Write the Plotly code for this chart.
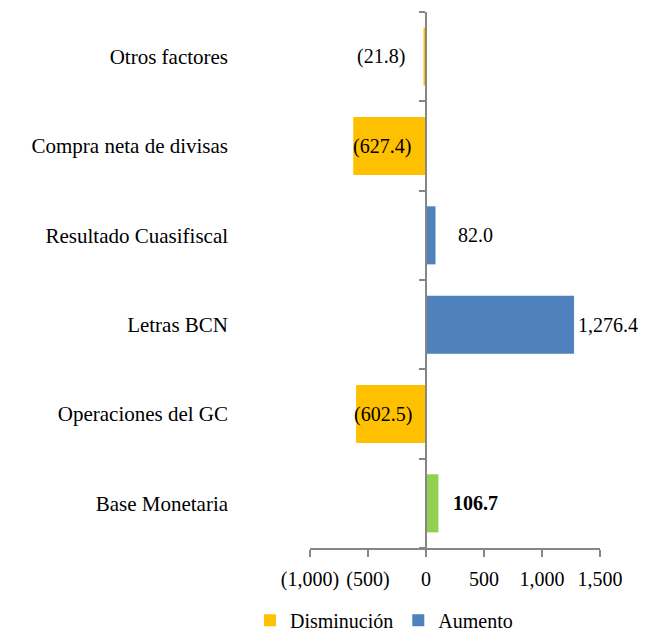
import plotly.graph_objects as go

categories = ["Base Monetaria", "Operaciones del GC", "Letras BCN",
              "Resultado Cuasifiscal", "Compra neta de divisas", "Otros factores"]
values = [106.7, -602.5, 1276.4, 82.0, -627.4, -21.8]
label_text = ["106.7", "(602.5)", "1,276.4", "82.0", "(627.4)", "(21.8)"]
x_tickvals = [-1000, -500, 0, 500, 1000, 1500]
x_ticktext = ["(1,000)", "(500)", "0", "500", "1,000", "1,500"]

# style
YELLOW = "#FFC000"
BLUE = "#4F81BD"
GREEN = "#92D050"
AXIS = "#868686"
FONT = "Liberation Serif"
FS = 20
label_shift = [13, -12, 2, 20, -13, -19]

base_idx = 0
dec_cats = [c for i, (c, v) in enumerate(zip(categories, values)) if v < 0 and i != base_idx]
dec_vals = [v for i, v in enumerate(values) if v < 0 and i != base_idx]
inc_cats = [c for i, (c, v) in enumerate(zip(categories, values)) if v >= 0 and i != base_idx]
inc_vals = [v for i, v in enumerate(values) if v >= 0 and i != base_idx]

fig = go.Figure()
fig.add_trace(go.Bar(y=dec_cats, x=dec_vals, orientation="h", name="Disminución",
                     marker=dict(color=YELLOW, line=dict(width=0))))
fig.add_trace(go.Bar(y=inc_cats, x=inc_vals, orientation="h", name="Aumento",
                     marker=dict(color=BLUE, line=dict(width=0))))
fig.add_trace(go.Bar(y=[categories[base_idx]], x=[values[base_idx]], orientation="h",
                     name="Base", showlegend=False,
                     marker=dict(color=GREEN, line=dict(width=0))))

annotations = []
for i, (c, v, t) in enumerate(zip(categories, values, label_text)):
    if v < 0:
        annotations.append(dict(x=0, y=c, xref="x", yref="y", text=t, showarrow=False,
                                xanchor="right", xshift=label_shift[i],
                                font=dict(family=FONT, size=FS, color="black")))
    else:
        txt = "<b>%s</b>" % t if i == base_idx else t
        annotations.append(dict(x=v, y=c, xref="x", yref="y", text=txt, showarrow=False,
                                xanchor="left", xshift=label_shift[i],
                                font=dict(family=FONT, size=FS, color="black")))

fig.update_layout(
    width=648, height=632,
    margin=dict(l=310, r=48, t=12, b=84, autoexpand=False),
    paper_bgcolor="white", plot_bgcolor="white",
    barmode="relative", bargap=0.35,
    font=dict(family=FONT, size=FS, color="black"),
    annotations=annotations,
    legend=dict(orientation="h", x=0.255, xanchor="center", y=-0.135, yanchor="middle",
                font=dict(family=FONT, size=FS), traceorder="normal",
                itemwidth=30),
    xaxis=dict(range=[-1000, 1500], tickvals=x_tickvals, ticktext=x_ticktext,
               showgrid=False, zeroline=False, showline=True, linecolor=AXIS, linewidth=1.5,
               ticks="outside", ticklen=7, tickcolor=AXIS, tickwidth=1.5,
               ticklabelstandoff=5,
               tickfont=dict(family=FONT, size=FS), automargin=False),
    yaxis=dict(categoryorder="array", categoryarray=categories,
               anchor="free", position=0.4, side="left",
               showgrid=False, zeroline=False, showline=True, linecolor=AXIS, linewidth=1.5,
               ticks="outside", tickson="boundaries", ticklen=6, tickcolor=AXIS, tickwidth=1.5,
               ticklabelstandoff=193,
               tickfont=dict(family=FONT, size=21), automargin=False),
)

fig.write_html("out.html", config={"displayModeBar": False},
               post_script="document.body.style.margin='0';document.body.style.overflow='hidden';")
